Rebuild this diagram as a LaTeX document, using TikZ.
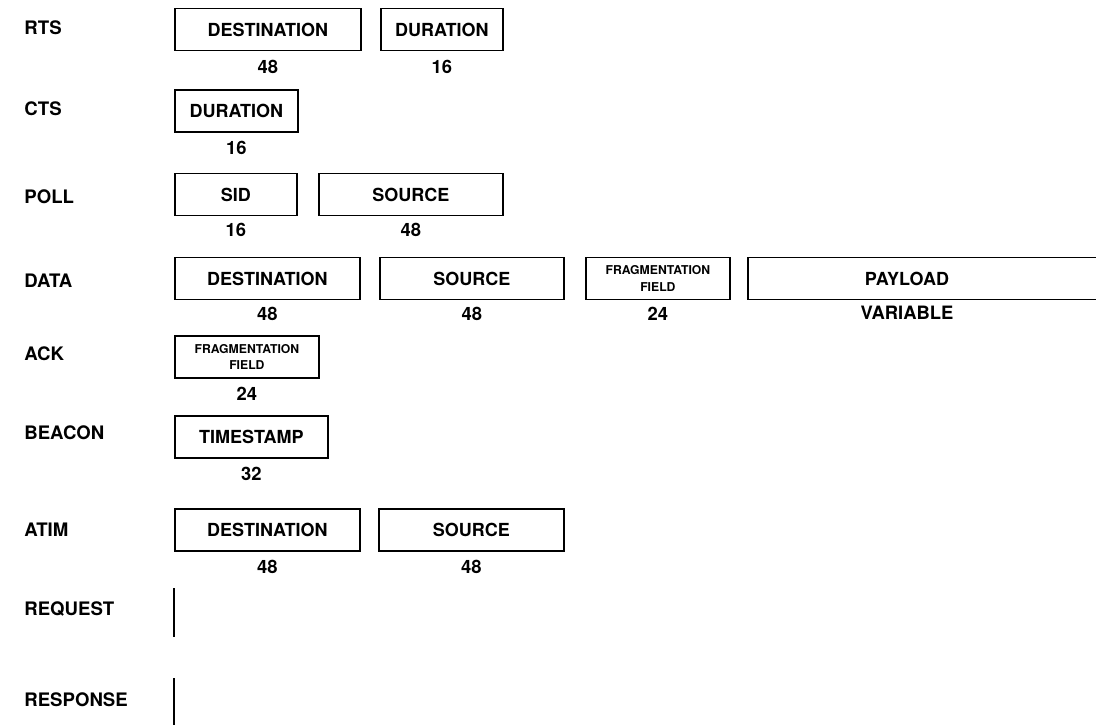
\documentclass[tikz,border=0pt]{standalone}
\usepackage{fontspec}
\setmainfont{TeX Gyre Heros}
\usetikzlibrary{positioning}

\tikzset{
  frame/.style={draw, line width=0.9pt, anchor=west, minimum height=21pt, inner sep=0pt,
    font=\bfseries\fontsize{9}{10}\selectfont},
  smallframe/.style={frame, align=center, font=\bfseries\fontsize{6.1}{8.4}\selectfont},
  rowname/.style={anchor=west, inner sep=0pt, font=\bfseries\fontsize{9.3}{11}\selectfont},
  bits/.style={inner sep=0pt, font=\bfseries\fontsize{9.2}{11}\selectfont},
  bar/.style={line width=0.9pt},
}

\begin{document}
\begin{tikzpicture}[x=0.5pt, y=-0.5pt]
  \useasboundingbox (0,0) rectangle (1096,724);

  % frame names
  \node[rowname] (rts)  at (24,28)  {RTS};
  \node[rowname] (cts)  at (24,109) {CTS};
  \node[rowname] (poll) at (24,197) {POLL};
  \node[rowname] (data) at (24,281) {DATA};
  \node[rowname] (ack)  at (24,354) {ACK};
  \node[rowname] (bcn)  at (24,433) {BEACON};
  \node[rowname] (atim) at (24,530) {ATIM};
  \node[rowname] (req)  at (24,609) {REQUEST};
  \node[rowname] (resp) at (24,700) {RESPONSE};

  % RTS
  \node[frame, minimum width=93pt] (rtsdst) at (174,29.5) {DESTINATION};
  \node[frame, minimum width=61pt] (rtsdur) at (380,29.5) {DURATION};
  \node[bits, below=4pt of rtsdst] {48};
  \node[bits, below=4pt of rtsdur] {16};

  % CTS
  \node[frame, minimum width=61.5pt] (ctsdur) at (174,111) {DURATION};
  \node[bits, below=4pt of ctsdur] {16};

  % POLL
  \node[frame, minimum width=61pt] (pollsid) at (174,194.5) {SID};
  \node[frame, minimum width=92pt] (pollsrc) at (318,194.5) {SOURCE};
  \node[bits, below=3pt of pollsid] {16};
  \node[bits, below=3pt of pollsrc] {48};

  % DATA
  \node[frame, minimum width=92.5pt] (datadst) at (174,278.5) {DESTINATION};
  \node[frame, minimum width=92pt] (datasrc) at (379,278.5) {SOURCE};
  \node[smallframe, minimum width=72pt] (datafrag) at (585,278.5) {FRAGMENTATION\\FIELD};
  \node[frame, minimum width=182pt] (datapay) at (747,278.5) {};
  \node[bits, font=\bfseries\fontsize{9}{10}\selectfont] (paytxt) at (907,278.5) {PAYLOAD};
  \node[bits, below=3pt of datadst] {48};
  \node[bits, below=3pt of datasrc] {48};
  \node[bits, below=3pt of datafrag] {24};
  \node[bits] (payvar) at (907,313) {VARIABLE};

  % ACK
  \node[smallframe, minimum width=72pt] (ackfrag) at (174,357) {FRAGMENTATION\\FIELD};
  \node[bits, below=4pt of ackfrag] {24};

  % BEACON
  \node[frame, minimum width=76.5pt] (bcnts) at (174,437) {TIMESTAMP};
  \node[bits, below=4pt of bcnts] {32};

  % ATIM
  \node[frame, minimum width=92.5pt] (atimdst) at (174,530) {DESTINATION};
  \node[frame, minimum width=92.5pt] (atimsrc) at (378,530) {SOURCE};
  \node[bits, below=4pt of atimdst] {48};
  \node[bits, below=4pt of atimsrc] {48};

  % REQUEST, RESPONSE
  \coordinate (reqtop)  at (174,588);
  \coordinate (reqbot)  at (174,637);
  \coordinate (resptop) at (174,678);
  \coordinate (respbot) at (174,730);
  \draw[bar] (reqtop) -- (reqbot);
  \draw[bar] (resptop) -- (respbot);
\end{tikzpicture}
\end{document}
